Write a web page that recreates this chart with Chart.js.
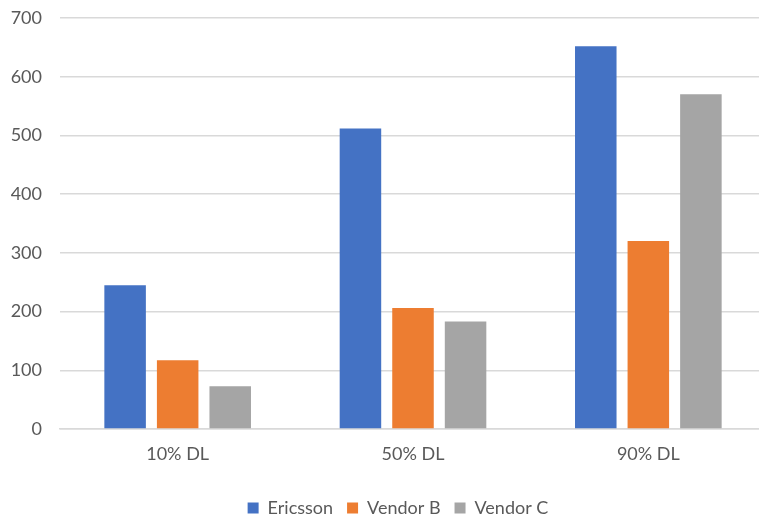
<!DOCTYPE html>
<html>
<head>
<meta charset="utf-8">
<script src="https://cdn.jsdelivr.net/npm/chart.js@4"></script>
<style>
  html, body { margin: 0; padding: 0; background: #fff; overflow: hidden; }
  /* the plot runs a few pixels past the right edge of the page */
  #wrap { width: 759px; height: 518px; overflow: hidden; }
</style>
</head>
<body>
<div id="wrap"><canvas id="chart" width="766" height="518"></canvas></div>
<script>
// Throughput per load level
const categories = ["10% DL", "50% DL", "90% DL"];
const ericsson = [245, 512, 652];
const vendorB = [117, 206, 320];
const vendorC = [73, 183, 570];
const yTicks = [0, 100, 200, 300, 400, 500, 600, 700];

const textColor = "#595959";
const font = { family: "Lato, 'Open Sans', sans-serif", size: 18 };

// nudge the legend row a bit to the left of the plot centre
const legendShift = {
  id: "legendShift",
  afterLayout(chart) {
    chart.legend.left -= 15;
    chart.legend.right -= 15;
  },
};

const ctx = document.getElementById("chart").getContext("2d");

const chart = new Chart(ctx, {
  type: "bar",
  data: {
    labels: categories,
    datasets: [
      { label: "Ericsson", data: ericsson, backgroundColor: "#4472C4" },
      { label: "Vendor B", data: vendorB, backgroundColor: "#ED7D31" },
      { label: "Vendor C", data: vendorC, backgroundColor: "#A5A5A5" },
    ],
  },
  options: {
    responsive: false,
    animation: false,
    categoryPercentage: 0.67,
    barPercentage: 0.79,
    layout: { padding: { top: 18, right: 0, left: 0, bottom: -9 } },
    plugins: {
      legend: {
        position: "bottom",
        fullSize: false,
        labels: {
          color: textColor,
          font: font,
          boxWidth: 11,
          boxHeight: 11,
          padding: 14,
        },
      },
      tooltip: { enabled: false },
    },
    scales: {
      x: {
        grid: { display: false },
        border: { color: "#d9d9d9", width: 1.5 },
        ticks: { color: textColor, font: font, padding: 6 },
        afterFit: (scale) => { scale.height = 56; },
      },
      y: {
        min: 0,
        max: 700,
        afterFit: (scale) => {
          // fixed gutter for the value labels, no extra room above/below
          scale.width = 60;
          scale.paddingTop = 0;
          scale.paddingBottom = 0;
        },
        afterBuildTicks: (scale) => {
          scale.ticks = yTicks.map((v) => ({ value: v }));
        },
        border: { display: false },
        grid: { color: "#d9d9d9", lineWidth: 1.5, drawTicks: false },
        ticks: { color: textColor, font: font, padding: 18 },
      },
    },
  },
  plugins: [legendShift],
});
</script>
</body>
</html>
